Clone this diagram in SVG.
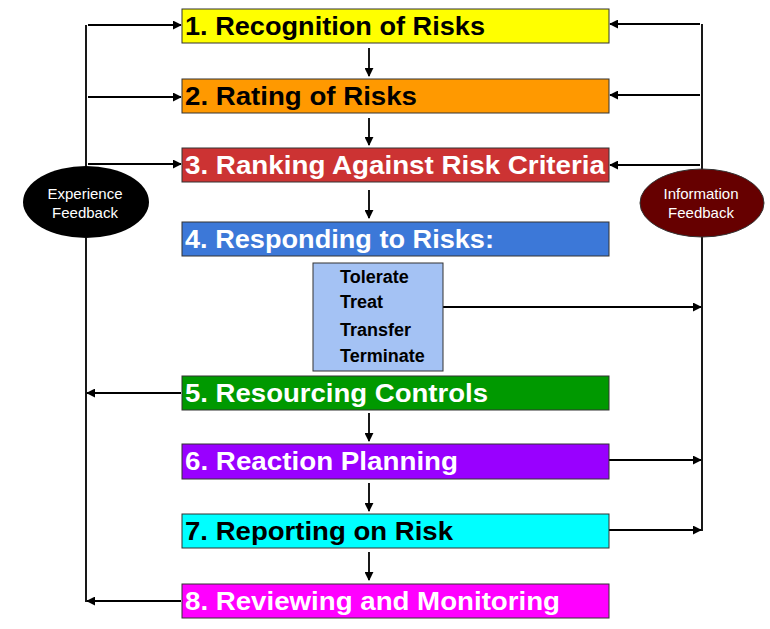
<svg xmlns="http://www.w3.org/2000/svg" width="770" height="629" viewBox="0 0 770 629">
<style>
.box{stroke:#333;stroke-width:1}
.lbl{font-family:"Liberation Sans",Arial,sans-serif;font-weight:bold;font-size:25px}
.lst{font-family:"Liberation Sans",Arial,sans-serif;font-weight:bold;font-size:18px;fill:#000}
.ell{font-family:"Liberation Sans",Arial,sans-serif;font-size:15px;fill:#fff;text-anchor:middle}
.ln{stroke:#000;stroke-width:1.8;fill:none}
</style>
<defs>
<marker id="ah" viewBox="0 0 10 10" refX="9" refY="5" markerWidth="5" markerHeight="5" orient="auto" markerUnits="strokeWidth">
<path d="M0,0 L10,5 L0,10 z" fill="#000"/>
</marker>
</defs>
<rect width="770" height="629" fill="#fff"/>
<g id="connectors">
<path class="ln" d="M86,25 V166 M86,238 V602"/>
<path class="ln" marker-end="url(#ah)" d="M88,25 H181"/>
<path class="ln" marker-end="url(#ah)" d="M88,97 H181"/>
<path class="ln" marker-end="url(#ah)" d="M88,164 H181"/>
<path class="ln" marker-end="url(#ah)" d="M181,393 H87"/>
<path class="ln" marker-end="url(#ah)" d="M181,601 H87"/>
<path class="ln" d="M702,24 V169 M702,237 V531"/>
<path class="ln" marker-end="url(#ah)" d="M700,24 H610"/>
<path class="ln" marker-end="url(#ah)" d="M700,95 H610"/>
<path class="ln" marker-end="url(#ah)" d="M700,165 H610"/>
<path class="ln" marker-end="url(#ah)" d="M443,307 H701"/>
<path class="ln" marker-end="url(#ah)" d="M609,460 H701"/>
<path class="ln" marker-end="url(#ah)" d="M609,530 H701"/>
<path class="ln" marker-end="url(#ah)" d="M369,48 V76"/>
<path class="ln" marker-end="url(#ah)" d="M369,118 V145"/>
<path class="ln" marker-end="url(#ah)" d="M369,190 V218"/>
<path class="ln" marker-end="url(#ah)" d="M369,413 V441"/>
<path class="ln" marker-end="url(#ah)" d="M369,483 V511"/>
<path class="ln" marker-end="url(#ah)" d="M369,552 V580"/>
</g>
<g id="n1"><rect class="box" x="182" y="9" width="427" height="34" fill="#ffff00"/><text class="lbl" x="185" y="35" fill="#000" textLength="300" lengthAdjust="spacingAndGlyphs">1. Recognition of Risks</text></g>
<g id="n2"><rect class="box" x="182" y="79" width="427" height="34" fill="#ff9900"/><text class="lbl" x="185" y="105" fill="#000" textLength="232" lengthAdjust="spacingAndGlyphs">2. Rating of Risks</text></g>
<g id="n3"><rect class="box" x="182" y="148" width="427" height="34" fill="#cc3333"/><text class="lbl" x="185" y="174" fill="#fff" textLength="420" lengthAdjust="spacingAndGlyphs">3. Ranking Against Risk Criteria</text></g>
<g id="n4"><rect class="box" x="182" y="222" width="427" height="34" fill="#3c78d8"/><text class="lbl" x="185" y="248" fill="#fff" textLength="309" lengthAdjust="spacingAndGlyphs">4. Responding to Risks:</text></g>
<g id="n4b"><rect class="box" x="313" y="263" width="130" height="108" fill="#a4c2f4"/>
<text class="lst" x="340" y="283">Tolerate</text>
<text class="lst" x="340" y="308">Treat</text>
<text class="lst" x="340" y="336">Transfer</text>
<text class="lst" x="340" y="362">Terminate</text></g>
<g id="n5"><rect class="box" x="182" y="376" width="427" height="34" fill="#009900"/><text class="lbl" x="185" y="402" fill="#fff" textLength="303" lengthAdjust="spacingAndGlyphs">5. Resourcing Controls</text></g>
<g id="n6"><rect class="box" x="182" y="444" width="427" height="35" fill="#9900ff"/><text class="lbl" x="185" y="470" fill="#fff" textLength="273" lengthAdjust="spacingAndGlyphs">6. Reaction Planning</text></g>
<g id="n7"><rect class="box" x="182" y="514" width="427" height="34" fill="#00ffff"/><text class="lbl" x="185" y="540" fill="#000" textLength="268" lengthAdjust="spacingAndGlyphs">7. Reporting on Risk</text></g>
<g id="n8"><rect class="box" x="182" y="584" width="427" height="34" fill="#ff00ff"/><text class="lbl" x="185" y="610" fill="#fff" textLength="375" lengthAdjust="spacingAndGlyphs">8. Reviewing and Monitoring</text></g>
<g id="exp"><ellipse cx="86" cy="202" rx="63" ry="36" fill="#000"/><text class="ell" x="85" y="199">Experience</text><text class="ell" x="85" y="218">Feedback</text></g>
<g id="info"><ellipse cx="702" cy="203" rx="62" ry="34" fill="#660000" stroke="#333" stroke-width="1"/><text class="ell" x="701" y="199">Information</text><text class="ell" x="701" y="218">Feedback</text></g>
</svg>
